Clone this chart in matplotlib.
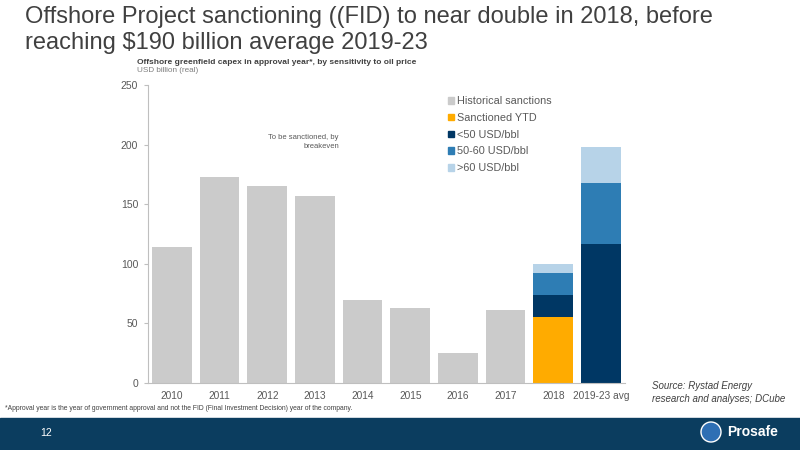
import matplotlib.pyplot as plt
import matplotlib.patches as mpatches
import numpy as np

plt.rcParams['font.family'] = ['Liberation Sans', 'DejaVu Sans']

categories = ['2010', '2011', '2012', '2013', '2014', '2015', '2016', '2017', '2018', '2019-23 avg']
historical = [114, 173, 165, 157, 70, 63, 25, 61, 0, 0]
sanctioned_ytd = [0, 0, 0, 0, 0, 0, 0, 0, 55, 0]
below_50 = [0, 0, 0, 0, 0, 0, 0, 0, 18.5, 117]
mid_50_60 = [0, 0, 0, 0, 0, 0, 0, 0, 18.5, 51]
above_60 = [0, 0, 0, 0, 0, 0, 0, 0, 7.5, 30]

series = [
    ('Historical sanctions', historical, '#cbcbcb'),
    ('Sanctioned YTD', sanctioned_ytd, '#ffab00'),
    ('<50 USD/bbl', below_50, '#003764'),
    ('50-60 USD/bbl', mid_50_60, '#2e7db4'),
    ('>60 USD/bbl', above_60, '#b7d3e8'),
]

fig = plt.figure(figsize=(8, 4.5), dpi=100)
ax = fig.add_axes([0.185, 0.149, 0.596, 0.662])

x = np.arange(len(categories))
bottom = np.zeros(len(categories))
handles = []
for name, vals, col in series:
    vals = np.array(vals, dtype=float)
    ax.bar(x, vals, 0.83, bottom=bottom, color=col, edgecolor='none')
    handles.append(mpatches.Patch(color=col, label=name))
    bottom += vals

ax.set_xlim(-0.5, len(categories) - 0.5)
ax.set_ylim(0, 250)
ax.set_yticks([0, 50, 100, 150, 200, 250])
ax.set_xticks(x)
ax.set_xticklabels(categories)
for s in ['top', 'right']:
    ax.spines[s].set_visible(False)
for s in ['left', 'bottom']:
    ax.spines[s].set_color('#bfbfbf')
    ax.spines[s].set_linewidth(0.8)
ax.tick_params(axis='y', colors='#bfbfbf', labelcolor='#595959', labelsize=7.5, length=3, pad=4)
ax.tick_params(axis='x', length=0, labelcolor='#595959', labelsize=7.3, pad=6)

leg = ax.legend(handles=handles, loc='upper left', bbox_to_anchor=(0.608, 0.995),
                frameon=False, fontsize=7.8, handlelength=0.55, handleheight=0.55,
                handletextpad=0.35, labelspacing=0.62, labelcolor='#595959')

ax.text(339 / 800, 1 - 142 / 450, 'To be sanctioned, by\nbreakeven', transform=fig.transFigure,
        ha='right', va='center', fontsize=5.5, color='#595959', linespacing=1.3)

# titles
fig.text(25 / 800, 1 - 17 / 450, 'Offshore Project sanctioning ((FID) to near double in 2018, before',
         fontsize=17, color='#404040', va='center')
fig.text(25 / 800, 1 - 43 / 450, 'reaching $190 billion average 2019-23',
         fontsize=17, color='#404040', va='center')
fig.text(137 / 800, 1 - 62 / 450, 'Offshore greenfield capex in approval year*, by sensitivity to oil price',
         fontsize=6.0, color='#404040', weight='bold', va='center')
fig.text(137 / 800, 1 - 71 / 450, 'USD billion (real)', fontsize=5.9, color='#7f7f7f', va='center')

fig.text(652 / 800, 1 - 386 / 450, 'Source: Rystad Energy',
         fontsize=7, color='#404040', style='italic', va='center')
fig.text(652 / 800, 1 - 399 / 450, 'research and analyses; DCube',
         fontsize=7, color='#404040', style='italic', va='center')
fig.text(5 / 800, 1 - 408 / 450,
         '*Approval year is the year of government approval and not the FID (Final Investment Decision) year of the company.',
         fontsize=4.9, color='#404040', va='center')

# footer band
fig.patches.append(mpatches.Rectangle((0, 0), 1, 32 / 450, transform=fig.transFigure,
                                      color='#0b3d5f', zorder=0))
fig.text(40 / 800, 1 - 433 / 450, '12', fontsize=7.5, color='white', va='center')
fig.patches.append(mpatches.Ellipse((711 / 800, 1 - 432 / 450), 20 / 800, 20 / 450,
                                    transform=fig.transFigure, facecolor='#2e6fb4',
                                    edgecolor='white', linewidth=1, zorder=1))
fig.text(727 / 800, 1 - 432 / 450, 'Prosafe', fontsize=10, color='white', weight='bold', va='center')

fig.savefig('out.png', dpi=100)
